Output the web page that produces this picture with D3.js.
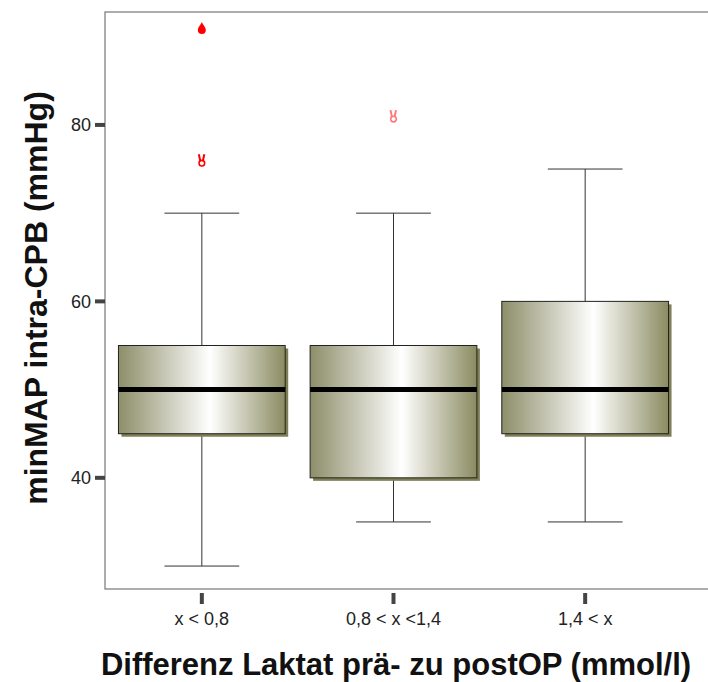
<!DOCTYPE html>
<html>
<head>
<meta charset="utf-8">
<script src="https://cdn.jsdelivr.net/npm/d3@7"></script>
<style>
  body { margin: 0; background: #fff; }
  text { font-family: "Liberation Sans", Arial, sans-serif; }
</style>
</head>
<body>
<div id="chart"></div>
<script>
var categories = ["x < 0,8", "0,8 < x <1,4", "1,4 < x"];
var whiskerLow = [30, 35, 35];
var q1 = [45, 40, 45];
var median = [50, 50, 50];
var q3 = [55, 55, 60];
var whiskerHigh = [70, 70, 75];
var outlierCat = [0, 0, 1];
var outlierVal = [91, 76, 81];
var outlierType = ["drop", "mark", "mark2"];
var yTicks = [40, 60, 80];

var width = 708, height = 682;

var svg = d3.select("#chart").append("svg")
    .attr("width", width)
    .attr("height", height);

var plot = { left: 105, right: 710, top: 12, bottom: 589 };

var x = d3.scaleBand()
    .domain(categories)
    .range([106, 681]);

var y = d3.scaleLinear()
    .domain([27.4, 92.8])
    .range([plot.bottom, plot.top]);

// gradient for boxes
var defs = svg.append("defs");
var grad = defs.append("linearGradient")
    .attr("id", "boxGrad")
    .attr("x1", "0%").attr("x2", "100%").attr("y1", "0%").attr("y2", "0%");
grad.append("stop").attr("offset", "0%").attr("stop-color", "#8d8e69");
grad.append("stop").attr("offset", "55%").attr("stop-color", "#ffffff");
grad.append("stop").attr("offset", "100%").attr("stop-color", "#8b8b62");

// frame
svg.append("rect")
    .attr("x", plot.left).attr("y", plot.top)
    .attr("width", plot.right - plot.left - 1)
    .attr("height", plot.bottom - plot.top)
    .attr("fill", "none")
    .attr("stroke", "#777")
    .attr("stroke-width", 1.2);

var boxW = x.bandwidth() * 0.87;
var capW = x.bandwidth() * 0.39;

var rows = categories.map(function(c, i) {
  return { cat: c, lo: whiskerLow[i], q1: q1[i], med: median[i], q3: q3[i], hi: whiskerHigh[i] };
});

var g = svg.selectAll(".box")
    .data(rows)
  .enter().append("g")
    .attr("class", "box");

function cx(d) { return x(d.cat) + x.bandwidth() / 2; }

// whiskers
g.append("line")
    .attr("x1", cx).attr("x2", cx)
    .attr("y1", function(d) { return y(d.hi); })
    .attr("y2", function(d) { return y(d.q3); })
    .attr("stroke", "#333");
g.append("line")
    .attr("x1", cx).attr("x2", cx)
    .attr("y1", function(d) { return y(d.q1); })
    .attr("y2", function(d) { return y(d.lo); })
    .attr("stroke", "#333");
g.append("line")
    .attr("x1", function(d) { return cx(d) - capW / 2; })
    .attr("x2", function(d) { return cx(d) + capW / 2; })
    .attr("y1", function(d) { return y(d.hi); })
    .attr("y2", function(d) { return y(d.hi); })
    .attr("stroke", "#333");
g.append("line")
    .attr("x1", function(d) { return cx(d) - capW / 2; })
    .attr("x2", function(d) { return cx(d) + capW / 2; })
    .attr("y1", function(d) { return y(d.lo); })
    .attr("y2", function(d) { return y(d.lo); })
    .attr("stroke", "#333");

// shadow
g.append("rect")
    .attr("x", function(d) { return cx(d) - boxW / 2 + 3; })
    .attr("y", function(d) { return y(d.q3) + 3; })
    .attr("width", boxW)
    .attr("height", function(d) { return y(d.q1) - y(d.q3); })
    .attr("fill", "#7f7f55");

// box
g.append("rect")
    .attr("x", function(d) { return cx(d) - boxW / 2; })
    .attr("y", function(d) { return y(d.q3); })
    .attr("width", boxW)
    .attr("height", function(d) { return y(d.q1) - y(d.q3); })
    .attr("fill", "url(#boxGrad)")
    .attr("stroke", "#222")
    .attr("stroke-width", 1);

// median
g.append("line")
    .attr("x1", function(d) { return cx(d) - boxW / 2; })
    .attr("x2", function(d) { return cx(d) + boxW / 2; })
    .attr("y1", function(d) { return y(d.med); })
    .attr("y2", function(d) { return y(d.med); })
    .attr("stroke", "#000")
    .attr("stroke-width", 5);

// outliers
outlierVal.forEach(function(v, i) {
  var px = x(categories[outlierCat[i]]) + x.bandwidth() / 2;
  var py = y(v);
  if (outlierType[i] === "drop") {
    svg.append("path")
      .attr("d", "M" + px + "," + (py - 6) +
        " C" + (px + 1) + "," + (py - 3) + " " + (px + 4) + "," + (py - 1) + " " + (px + 4) + "," + (py + 2) +
        " A4,4 0 0 1 " + (px - 4) + "," + (py + 2) +
        " C" + (px - 4) + "," + (py - 1) + " " + (px - 1) + "," + (py - 3) + " " + px + "," + (py - 6) + "Z")
      .attr("fill", "#ff0000");
  } else {
    var col = outlierType[i] === "mark" ? "#ff0000" : "#ff7a7a";
    var m = svg.append("g").attr("transform", "translate(" + px + "," + py + ")");
    m.append("path")
      .attr("d", "M-3,-6 L-1.5,1 M2.5,-6 L1,1")
      .attr("stroke", col)
      .attr("stroke-width", 2)
      .attr("fill", "none");
    m.append("circle")
      .attr("cx", 0).attr("cy", 3).attr("r", 2.8)
      .attr("stroke", col)
      .attr("stroke-width", 1.6)
      .attr("fill", "none");
  }
});

// y axis ticks
var yAxis = svg.append("g");
yAxis.selectAll("line")
    .data(yTicks)
  .enter().append("line")
    .attr("x1", 95).attr("x2", 105)
    .attr("y1", function(d) { return y(d); })
    .attr("y2", function(d) { return y(d); })
    .attr("stroke", "#444")
    .attr("stroke-width", 4);
yAxis.selectAll("text")
    .data(yTicks)
  .enter().append("text")
    .attr("x", 91)
    .attr("y", function(d) { return y(d); })
    .attr("dy", "0.35em")
    .attr("text-anchor", "end")
    .style("font-size", "18px")
    .attr("fill", "#222")
    .text(function(d) { return d; });

// x axis ticks
var xAxis = svg.append("g");
xAxis.selectAll("line")
    .data(categories)
  .enter().append("line")
    .attr("x1", function(d) { return x(d) + x.bandwidth() / 2; })
    .attr("x2", function(d) { return x(d) + x.bandwidth() / 2; })
    .attr("y1", 593).attr("y2", 604)
    .attr("stroke", "#444")
    .attr("stroke-width", 4);
xAxis.selectAll("text")
    .data(categories)
  .enter().append("text")
    .attr("x", function(d) { return x(d) + x.bandwidth() / 2; })
    .attr("y", 619)
    .attr("dy", "0.35em")
    .attr("text-anchor", "middle")
    .style("font-size", "18px")
    .attr("fill", "#222")
    .text(function(d) { return d; });

// titles
svg.append("text")
    .attr("x", 396).attr("y", 675)
    .attr("text-anchor", "middle")
    .style("font-size", "31px")
    .style("font-weight", "bold")
    .attr("fill", "#111")
    .text("Differenz Laktat prä- zu postOP (mmol/l)");

svg.append("text")
    .attr("transform", "translate(36,298) rotate(-90)")
    .attr("dy", "0.35em")
    .attr("text-anchor", "middle")
    .style("font-size", "32px")
    .style("font-weight", "bold")
    .attr("fill", "#111")
    .text("minMAP intra-CPB (mmHg)");
</script>
</body>
</html>
